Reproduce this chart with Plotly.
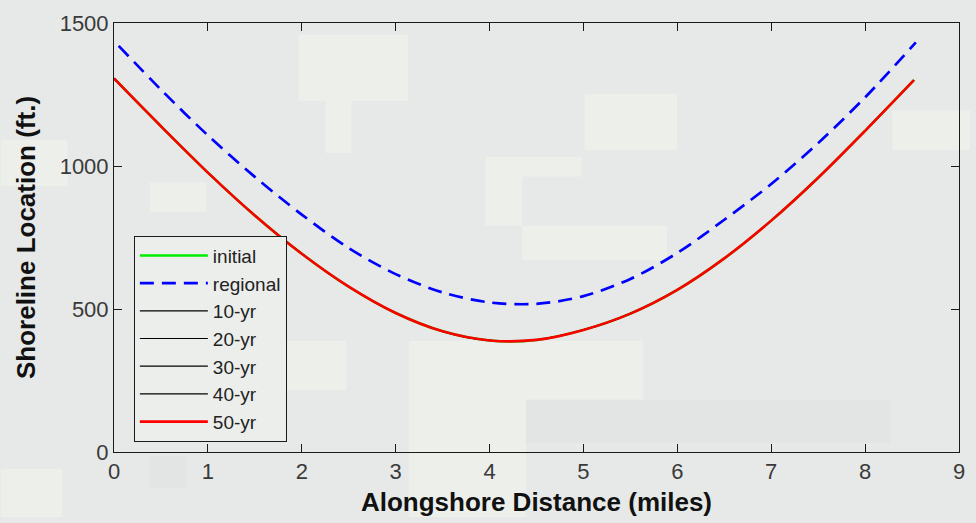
import plotly.graph_objects as go

# ---- data ----
x_mi = [0.0, 0.5, 1.0, 1.5, 2.0, 2.5, 3.0, 3.5, 4.0, 4.5, 5.0, 5.5, 6.0, 6.5, 7.0, 7.5, 8.0, 8.52]
yr50 = [1306, 1139, 977, 827, 693, 578, 486, 422, 390, 392, 427, 484, 567, 677, 809, 959, 1123, 1300]
x_reg = [0.05, 0.5, 1.0, 1.5, 2.0, 2.5, 3.0, 3.5, 4.0, 4.5, 5.0, 5.5, 6.0, 6.5, 7.0, 7.5, 8.0, 8.54]
regional = [1420, 1267, 1107, 962, 830, 713, 622, 558, 523, 518, 545, 605, 696, 812, 937, 1080, 1240, 1432]
# initial and 10-40 yr curves are hidden beneath the 50-yr curve in the reference
initial = yr50
yr10 = yr50
yr20 = yr50
yr30 = yr50
yr40 = yr50

x_ticks = [0, 1, 2, 3, 4, 5, 6, 7, 8, 9]
y_ticks = [0, 500, 1000, 1500]

# ---- layout geometry ----
W, H = 976, 523
L, R, T, B = 114, 965, 21, 457

def px2paper(x0, y0, x1, y1):
    return dict(x0=(x0 - L) / (R - L), x1=(x1 - L) / (R - L),
                y0=(B - y0) / (B - T), y1=(B - y1) / (B - T))

BASE = "#e6e9e8"
LIGHT = "#edefeb"
DARK = "#e2e5e4"
patches = [
    ((300, 33, 410, 100), LIGHT), ((327, 100, 353, 153), LIGHT), ((150, 183, 207, 213), LIGHT),
    ((0, 140, 67, 187), LIGHT), ((588, 93, 681, 150), LIGHT), ((525, 157, 585, 177), LIGHT),
    ((488, 157, 525, 227), LIGHT), ((525, 227, 671, 262), LIGHT), ((898, 110, 976, 150), LIGHT),
    ((411, 344, 647, 404), LIGHT), ((411, 404, 529, 523), LIGHT), ((286, 344, 348, 394), LIGHT),
    ((0, 474, 62, 523), LIGHT),
    ((529, 404, 896, 448), DARK), ((150, 461, 187, 494), DARK),
]
shapes = []
for (rect, col) in patches:
    d = px2paper(*rect)
    shapes.append(dict(type="rect", xref="paper", yref="paper", layer="below",
                       line=dict(width=0), fillcolor=col, **d))

fig = go.Figure()
FONT = "Liberation Sans, Arial, sans-serif"
SM = 0.9

fig.add_trace(go.Scatter(x=x_mi, y=initial, name="initial", mode="lines",
                         line=dict(color="#00ee00", width=2.5, shape="spline", smoothing=SM)))
fig.add_trace(go.Scatter(x=x_reg, y=regional, name="regional", mode="lines",
                         line=dict(color="#0000ff", width=2.7, dash="14px,8px", shape="spline", smoothing=SM)))
for nm, ys in [("10-yr", yr10), ("20-yr", yr20), ("30-yr", yr30), ("40-yr", yr40)]:
    fig.add_trace(go.Scatter(x=x_mi, y=ys, name=nm, mode="lines",
                             line=dict(color="black", width=1.2, shape="spline", smoothing=SM)))
fig.add_trace(go.Scatter(x=x_mi, y=yr50, name="50-yr", mode="lines",
                         line=dict(color="#ff0000", width=2.6, shape="spline", smoothing=SM)))

axis_common = dict(showline=True, linecolor="#1a1a1a", linewidth=1, mirror="ticks",
                   ticks="inside", ticklen=8, tickwidth=1, tickcolor="#1a1a1a",
                   showgrid=False, zeroline=False,
                   tickfont=dict(family=FONT, size=22, color="#3a3a3a"))

fig.update_layout(
    width=W, height=H,
    margin=dict(l=L, r=W - R, t=T, b=H - B),
    paper_bgcolor=BASE, plot_bgcolor="rgba(0,0,0,0)",
    shapes=shapes,
    xaxis=dict(range=[0, 9], tickvals=x_ticks, ticktext=[str(v) for v in x_ticks],
               title=dict(text="<b>Alongshore Distance (miles)</b>", standoff=9,
                          font=dict(family=FONT, size=26, color="#111")),
               **axis_common),
    yaxis=dict(range=[0, 1500], tickvals=y_ticks, ticktext=[str(v) for v in y_ticks],
               title=dict(text="<b>Shoreline Location (ft.)</b>", standoff=16,
                          font=dict(family=FONT, size=26, color="#111")),
               **axis_common),
    legend=dict(x=(134 - L) / (R - L), y=(B - 237) / (B - T), xanchor="left", yanchor="top",
                bgcolor="#eceeec", bordercolor="#1a1a1a", borderwidth=1,
                font=dict(family=FONT, size=19, color="#222"),
                itemwidth=68, tracegroupgap=0),
    showlegend=True,
)

fig.write_html("out.html")
